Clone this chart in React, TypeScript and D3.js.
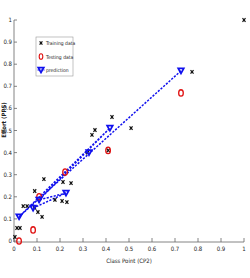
import React from "react";
import * as d3 from "d3";

const W = 250, H = 278;
const xTicks = [0, 0.1, 0.2, 0.3, 0.4, 0.5, 0.6, 0.7, 0.8, 0.9, 1];
const yTicks = [0, 0.1, 0.2, 0.3, 0.4, 0.5, 0.6, 0.7, 0.8, 0.9, 1];
const xTickLabels = ["0", "0.1", "0.2", "0.3", "0.4", "0.5", "0.6", "0.7", "0.8", "0.9", "1"];
const yTickLabels = ["0", "0.1", "0.2", "0.3", "0.4", "0.5", "0.6", "0.7", "0.8", "0.9", "1"];

const trainX = [1.0, 0.774, 0.509, 0.426, 0.352, 0.339, 0.32, 0.13, 0.09, 0.213, 0.248, 0.178, 0.209, 0.23, 0.04, 0.057, 0.104, 0.122, 0.013, 0.026, 0.004, 0.09, 0.41];
const trainY = [1.0, 0.765, 0.511, 0.561, 0.502, 0.48, 0.4, 0.28, 0.226, 0.267, 0.262, 0.186, 0.181, 0.176, 0.158, 0.158, 0.131, 0.109, 0.059, 0.059, 0.018, 0.15, 0.41];

const testX = [0.726, 0.409, 0.222, 0.109, 0.083, 0.022];
const testY = [0.67, 0.41, 0.312, 0.2, 0.05, 0.0];

const predX = [0.726, 0.022, 0.417, 0.109, 0.226, 0.083, 0.326];
const predY = [0.77, 0.11, 0.511, 0.186, 0.217, 0.149, 0.4];

const xLabel = "Class Point (CP2)";
const yLabel = "Effort (PPS)";
const legendLabels = ["Training data", "Testing data", "prediction"];

const FONT = "'DejaVu Sans Condensed', 'Liberation Sans Narrow', 'Liberation Sans', sans-serif";

export default function App() {
  const x = d3.scaleLinear().domain([0, 1]).range([14, 244]);
  const y = d3.scaleLinear().domain([0, 1]).range([241, 20]);
  const blue = "#1010ee";
  const red = "#e01010";

  const pathOrder = [0, 1, 2, 3, 4, 5];
  const predLine = d3.line<number>().x(i => x(predX[i])).y(i => y(predY[i]));

  const cross = (cx: number, cy: number, s: number, key: any) => (
    <g key={key} stroke="#111" strokeWidth={1.2}>
      <line x1={cx - s} y1={cy - s * 1.2} x2={cx + s} y2={cy + s * 1.2} />
      <line x1={cx - s} y1={cy + s * 1.2} x2={cx + s} y2={cy - s * 1.2} />
    </g>
  );
  const tri = (cx: number, cy: number, key: any) => (
    <path key={key} d={`M${cx - 2.8},${cy - 2.4}L${cx + 2.8},${cy - 2.4}L${cx},${cy + 2.6}Z`} fill="none" stroke={blue} strokeWidth={1.7} />
  );

  return (
    <div style={{ position: "fixed", left: 0, top: 0 }}>
      <svg width={W} height={H} style={{ display: "block", background: "#fff" }}>
        {/* axes */}
        <line x1={x(0)} y1={y(0) + 1} x2={x(1)} y2={y(0) + 1} stroke="#666" strokeWidth={0.8} />
        <line x1={x(0)} y1={y(0) + 1} x2={x(0)} y2={y(1)} stroke="#666" strokeWidth={0.8} />
        {xTicks.map((t, i) => (
          <g key={"xt" + i}>
            <line x1={x(t)} x2={x(t)} y1={y(0) + 1} y2={y(0) - 3} stroke="#666" strokeWidth={0.8} />
            <text x={x(t)} y={y(0) + 10} fontSize={6} fontFamily={FONT} textAnchor="middle" fill="#222">{xTickLabels[i]}</text>
          </g>
        ))}
        {yTicks.map((t, i) => (
          <g key={"yt" + i}>
            <line x1={x(0)} x2={x(0) + 3} y1={y(t)} y2={y(t)} stroke="#666" strokeWidth={0.8} />
            <text x={x(0) - 2} y={y(t) + 2} fontSize={6} fontFamily={FONT} textAnchor="end" fill="#222">{yTickLabels[i]}</text>
          </g>
        ))}
        <text x={129} y={263} fontSize={6} fontFamily={FONT} textAnchor="middle" fill="#222">{xLabel}</text>
        <text transform={`translate(6,120) rotate(-90)`} fontSize={6} fontWeight="bold" fontFamily={FONT} textAnchor="middle" fill="#222">{yLabel}</text>

        {/* prediction dashed path */}
        <path d={predLine(pathOrder) || ""} fill="none" stroke={blue} strokeWidth={1.5} strokeDasharray="2.2,1.4" />

        {/* training */}
        {trainX.map((v, i) => cross(x(v), y(trainY[i]), 1.5, "tr" + i))}
        {/* testing */}
        {testX.map((v, i) => (
          <ellipse key={"te" + i} cx={x(v)} cy={y(testY[i])} rx={2.3} ry={3.2} fill="none" stroke={red} strokeWidth={1.3} />
        ))}
        {/* prediction */}
        {predX.map((v, i) => tri(x(v), y(predY[i]), "pr" + i))}

        {/* legend */}
        <rect x={36} y={37} width={37} height={39} fill="#fff" stroke="#999" strokeWidth={0.6} />
        {cross(41, 43, 1.4, "lg0")}
        <ellipse cx={41} cy={56.5} rx={1.8} ry={2.8} fill="none" stroke={red} strokeWidth={1.1} />
        <line x1={37.5} x2={44.5} y1={70} y2={70} stroke={blue} strokeWidth={1.2} strokeDasharray="2,1" />
        {tri(41, 70, "lg2")}
        {legendLabels.map((l, i) => (
          <text key={"lg" + i} x={46} y={45 + i * 13.5} fontSize={5} fontFamily={FONT} fill="#222">{l}</text>
        ))}
      </svg>
    </div>
  );
}
